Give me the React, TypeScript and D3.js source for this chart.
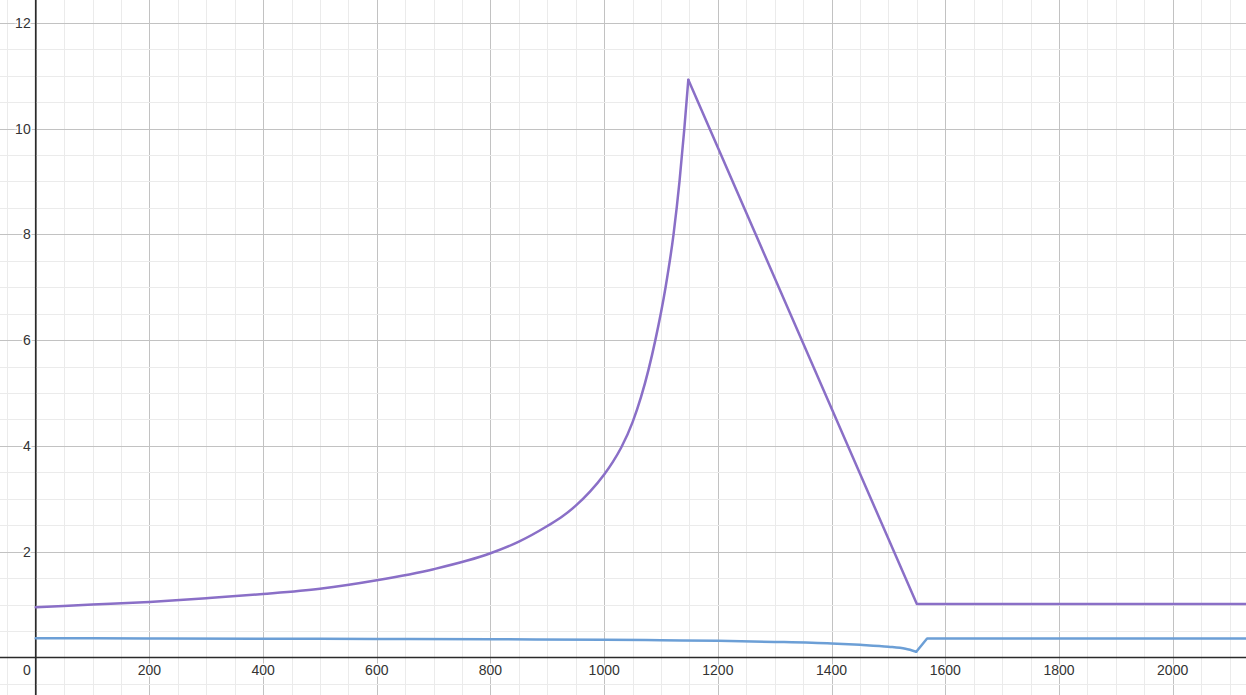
import { useRef, useEffect } from "react";
import * as d3 from "d3";

const purpleRise: [number, number][] = [
  [0, 0.95], [100, 1.0], [200, 1.05], [300, 1.12], [400, 1.2], [500, 1.3],
  [600, 1.46], [700, 1.67], [800, 1.97], [850, 2.19], [900, 2.485], [925, 2.655],
  [950, 2.87], [975, 3.135], [1000, 3.46], [1015, 3.694], [1030, 3.97],
  [1050, 4.45], [1065, 4.93], [1090, 6.0], [1108, 7.0], [1122, 8.0],
  [1132.5, 9.0], [1141, 10.0], [1148, 10.92],
];
const purpleFall: [number, number][] = [
  [1148, 10.92], [1550, 1.01], [2130, 1.01],
];

// blue curve: slow decline, dip, then jump back up
const blueDecline: [number, number][] = [
  [0, 0.365], [200, 0.36], [400, 0.355], [600, 0.35], [800, 0.345], [1000, 0.335],
  [1100, 0.327], [1200, 0.316], [1300, 0.295], [1400, 0.265], [1450, 0.24],
  [1500, 0.205], [1530, 0.165], [1549, 0.11],
];
const blueTail: [number, number][] = [
  [1549, 0.11], [1568, 0.36], [2130, 0.36],
];

const xTicks = [0, 200, 400, 600, 800, 1000, 1200, 1400, 1600, 1800, 2000];
const yTicks = [2, 4, 6, 8, 10, 12];

const W = 1246;
const H = 695;

const App = () => {
  const ref = useRef<SVGSVGElement>(null);

  useEffect(() => {
    const svg = d3.select(ref.current);
    svg.selectAll("*").remove();

    const x = d3.scaleLinear().domain([-62.8, 2129]).range([0, W]);
    const y = d3.scaleLinear().domain([12.43, -0.709]).range([0, H]);

    svg.append("rect").attr("width", W).attr("height", H).attr("fill", "#fff");

    const grid = svg.append("g").attr("shape-rendering", "crispEdges");
    // minor + major grid
    grid
      .selectAll(".vx")
      .data(d3.range(-50, 2130, 50))
      .enter()
      .append("line")
      .attr("x1", d => Math.round(x(d)) + 0.5)
      .attr("x2", d => Math.round(x(d)) + 0.5)
      .attr("y1", 0)
      .attr("y2", H)
      .attr("stroke", d => (d % 200 === 0 ? "#c2c2c2" : "#ebebeb"))
      .attr("stroke-width", 1);
    grid
      .selectAll(".hy")
      .data(d3.range(-0.5, 12.5, 0.5))
      .enter()
      .append("line")
      .attr("y1", d => Math.round(y(d)) + 0.5)
      .attr("y2", d => Math.round(y(d)) + 0.5)
      .attr("x1", 0)
      .attr("x2", W)
      .attr("stroke", d => (Math.abs(d % 2) < 1e-9 ? "#c2c2c2" : "#ebebeb"))
      .attr("stroke-width", 1);

    // axes
    svg
      .append("line")
      .attr("x1", x(0)).attr("x2", x(0))
      .attr("y1", 0).attr("y2", H)
      .attr("stroke", "#2a2a2a").attr("stroke-width", 1.6);
    svg
      .append("line")
      .attr("y1", y(0)).attr("y2", y(0))
      .attr("x1", 0).attr("x2", W)
      .attr("stroke", "#2a2a2a").attr("stroke-width", 1.6);

    const label = (sel: d3.Selection<SVGTextElement, any, any, any>) =>
      sel
        .attr("font-family", "'Liberation Sans', Arial, sans-serif")
        .attr("font-size", 14)
        .attr("fill", "#333")
        .attr("stroke", "#fff")
        .attr("stroke-width", 3)
        .attr("paint-order", "stroke");

    svg
      .append("g")
      .selectAll("text")
      .data(xTicks)
      .enter()
      .append("text")
      .attr("x", d => (d === 0 ? x(0) - 5 : x(d)))
      .attr("y", y(0) + 18)
      .attr("text-anchor", d => (d === 0 ? "end" : "middle"))
      .text(d => d)
      .call(label);

    svg
      .append("g")
      .selectAll("text")
      .data(yTicks)
      .enter()
      .append("text")
      .attr("x", x(0) - 5)
      .attr("y", d => y(d))
      .attr("dy", "0.36em")
      .attr("text-anchor", "end")
      .text(d => d)
      .call(label);

    const smooth = d3
      .line<[number, number]>()
      .x(d => x(d[0]))
      .y(d => y(d[1]))
      .curve(d3.curveMonotoneX);
    const straight = d3
      .line<[number, number]>()
      .x(d => x(d[0]))
      .y(d => y(d[1]));

    const curves: [[number, number][], boolean, string][] = [
      [blueDecline, true, "#6c9fd6"],
      [blueTail, false, "#6c9fd6"],
      [purpleRise, true, "#8a6fc7"],
      [purpleFall, false, "#8a6fc7"],
    ];
    curves.forEach(([pts, isSmooth, color]) => {
      svg
        .append("path")
        .attr("d", (isSmooth ? smooth : straight)(pts) as string)
        .attr("fill", "none")
        .attr("stroke", color)
        .attr("stroke-width", 2.5)
        .attr("stroke-linejoin", "round")
        .attr("stroke-linecap", "round");
    });
  }, []);

  return (
    <svg
      ref={ref}
      width={W}
      height={H}
      style={{ position: "absolute", left: 0, top: 0, display: "block" }}
    />
  );
};

export default App;
